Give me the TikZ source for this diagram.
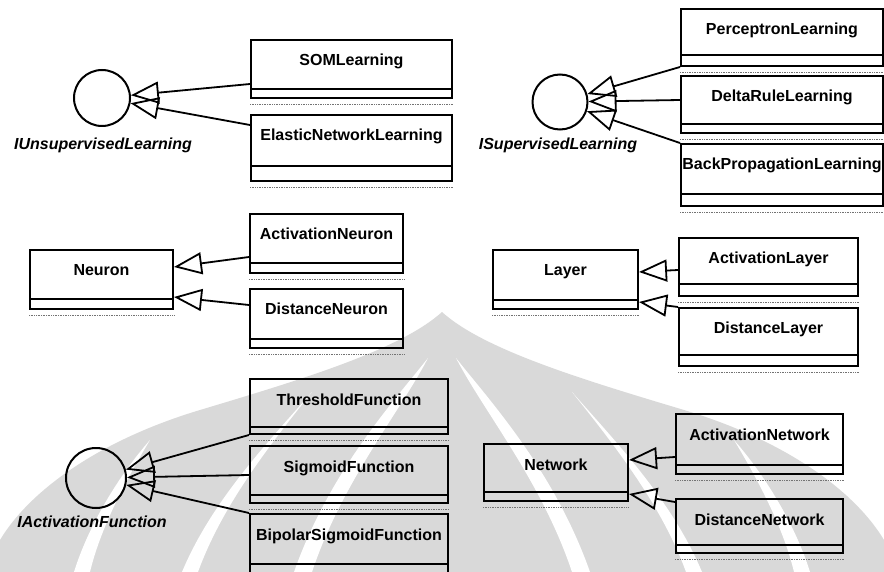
\documentclass[tikz,border=0pt]{standalone}
\usepackage{fontspec}
\setmainfont{Liberation Sans}
\usetikzlibrary{arrows.meta}

\tikzset{
  classbox/.style={draw, line width=2pt, rectangle, inner sep=0pt,
    font=\fontsize{16}{18}\selectfont\bfseries, anchor=north west},
  compline/.style={line width=2pt},
  shadowline/.style={draw=black!55, line width=0.7pt, densely dotted},
  iface/.style={draw, circle, line width=2pt, inner sep=0pt},
  ilabel/.style={font=\fontsize{16}{18}\selectfont\bfseries\itshape, inner sep=0pt},
  realize/.style={line width=1.8pt, -{Triangle[open, length=28pt, width=22pt]}},
  watermark/.style={fill=black!15, draw=none},
  gap/.style={fill=white, draw=none},
}

% UML class: name, x1, y1, x2, y2, height of the lower compartment, title
\newcommand\umlclass[7]{%
  \pgfmathsetmacro\clsw{#4-#2}%
  \pgfmathsetmacro\clsd{#5-#3-26}%
  \node[classbox, minimum width=\clsw pt, text height=26pt, text depth=\clsd pt]
    (#1) at (#2,#3) {#7};
  \draw[compline] ([yshift=#6pt]#1.south west) -- ([yshift=#6pt]#1.south east);
  \draw[shadowline] ([yshift=-5pt]#1.south west) -- ([yshift=-5pt]#1.south east);
}

% white petal gaps of the background emblem (left half)
\newcommand\emblemgaps{%
  \fill[gap] (428,358) .. controls (395,400) and (330,470) .. (294,572)
     -- (312,572) .. controls (342,482) and (400,412) .. cycle;
  \fill[gap] (312,392) .. controls (270,440) and (212,500) .. (182,572)
     -- (198,572) .. controls (222,506) and (268,447) .. cycle;
  \fill[gap] (150,440) .. controls (115,480) and (87,530) .. (74,572)
     -- (90,572) .. controls (100,530) and (124,483) .. cycle;
}

\begin{document}
\begin{tikzpicture}[x=1pt,y=-1pt]
\useasboundingbox (0,0) rectangle (884,572);
\clip (0,0) rectangle (884,572);

% background emblem
\fill[watermark] (442,312) .. controls (400,350) and (300,380) .. (200,410)
   .. controls (100,440) and (30,490) .. (0,540) -- (0,572) -- (884,572)
   -- (884,540) .. controls (854,490) and (784,440) .. (684,410)
   .. controls (584,380) and (484,350) .. cycle;
\emblemgaps
\begin{scope}[xshift=884pt, xscale=-1]
  \emblemgaps
\end{scope}

% classes
\umlclass{som}{250}{39}{451}{97}{10}{SOMLearning}
\umlclass{ela}{250}{114}{451}{180}{16}{ElasticNetworkLearning}
\umlclass{per}{680}{8}{882}{65}{12}{PerceptronLearning}
\umlclass{del}{680}{75}{882}{132}{10}{DeltaRuleLearning}
\umlclass{bpl}{680}{143}{882}{205}{13}{BackPropagationLearning}
\umlclass{neu}{29}{249}{172}{308}{11}{Neuron}
\umlclass{acn}{249}{213}{402}{272}{11}{ActivationNeuron}
\umlclass{dsn}{249}{288}{402}{347}{10}{DistanceNeuron}
\umlclass{lay}{492}{249}{637}{308}{10}{Layer}
\umlclass{acl}{678}{237}{857}{295}{13}{ActivationLayer}
\umlclass{dsl}{678}{307}{857}{365}{12}{DistanceLayer}
\umlclass{thr}{249}{378}{447}{433}{8}{ThresholdFunction}
\umlclass{sig}{249}{445}{447}{502}{9}{SigmoidFunction}
\umlclass{bip}{249}{513}{447}{576}{14}{BipolarSigmoidFunction}
\umlclass{net}{483}{443}{627}{500}{10}{Network}
\umlclass{acw}{675}{413}{842}{473}{10}{ActivationNetwork}
\umlclass{dsw}{675}{498}{842}{552}{9}{DistanceNetwork}

% interfaces
\node[iface, minimum size=56pt] (iu) at (102,98) {};
\node[ilabel] (iul) at (103,145) {IUnsupervisedLearning};
\node[iface, minimum size=55pt] (is) at (560,102) {};
\node[ilabel] (isl) at (558,145) {ISupervisedLearning};
\node[iface, minimum size=60pt] (ia) at (96,478) {};
\node[ilabel] (ial) at (92,522) {IActivationFunction};

% realizations and generalizations
\draw[realize] ([yshift=15pt]som.south west) -- (iu);
\draw[realize] ([yshift=-11pt]ela.north west) -- (iu);
\draw[realize] (per.south west) -- (is);
\draw[realize] ([yshift=-25pt]del.north west) -- (is);
\draw[realize] (bpl.north west) -- (is);
\draw[realize] ([yshift=17pt]acn.south west) -- ([yshift=-18pt]neu.north east);
\draw[realize] ([yshift=-17pt]dsn.north west) -- ([yshift=13pt]neu.south east);
\draw[realize] ([yshift=-33pt]acl.north west) -- ([yshift=-23pt]lay.north east);
\draw[realize] (dsl.north west) -- ([yshift=8pt]lay.south east);
\draw[realize] (thr.south west) -- (ia);
\draw[realize] ([yshift=-30pt]sig.north west) -- (ia);
\draw[realize] (bip.north west) -- (ia);
\draw[realize] ([yshift=18pt]acw.south west) -- ([yshift=-17pt]net.north east);
\draw[realize] ([yshift=-4pt]dsw.north west) -- ([yshift=8pt]net.south east);
\end{tikzpicture}
\end{document}
